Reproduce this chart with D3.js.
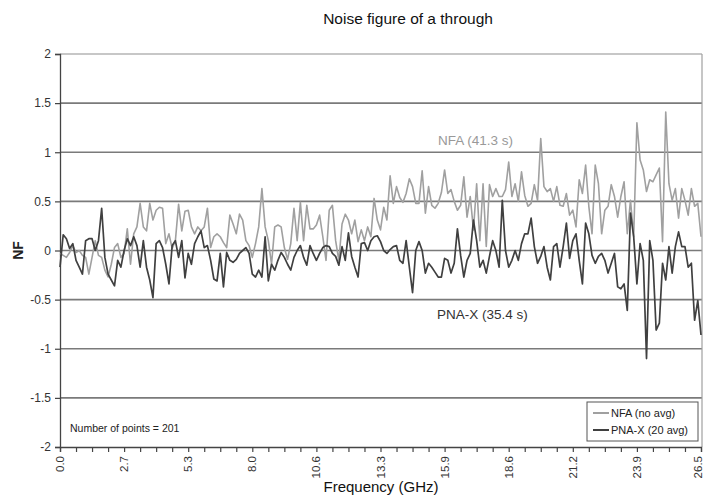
<!DOCTYPE html>
<html><head><meta charset="utf-8">
<script src="https://cdn.jsdelivr.net/npm/d3@7"></script>
<style>
html,body{margin:0;padding:0;background:#fff;}
svg{display:block;font-family:"Liberation Sans",Arial,sans-serif;}
</style></head>
<body><svg id="c" width="703" height="497"></svg>
<script>
const title = "Noise figure of a through";
const xTitle = "Frequency (GHz)";
const yTitle = "NF";
const startGHz = 0, stopGHz = 26.5, nPoints = 201;
const xTickLabels = ["0.0","2.7","5.3","8.0","10.6","13.3","15.9","18.6","21.2","23.9","26.5"];
const yTicks = [-2,-1.5,-1,-0.5,0,0.5,1,1.5,2];
const yTickLabels = ["-2","-1.5","-1","-0.5","0","0.5","1","1.5","2"];
const seriesNames = ["NFA (no avg)","PNA-X (20 avg)"];

const nfa = [
 -0.03,-0.05,-0.07,-0.02,0.05,-0.02,0.00,-0.05,-0.07,-0.24,
 -0.07,0.10,-0.05,-0.07,-0.20,-0.27,-0.14,0.03,0.07,-0.07,
 -0.03,0.22,-0.14,0.17,0.24,0.48,0.24,0.20,0.48,0.31,
 0.41,0.44,0.43,0.07,0.17,0.02,0.10,0.47,0.20,0.40,
 0.41,
 0.24,0.17,0.24,0.20,0.24,0.43,0.03,0.14,0.17,0.14,
 0.08,0.03,0.36,0.27,0.17,0.37,0.31,0.10,0.05,-0.07,
 0.07,0.24,0.63,0.24,0.10,-0.14,0.24,0.26,0.24,0.03,
 -0.09,0.07,0.43,0.10,0.49,0.10,0.46,0.22,0.22,
 0.26,0.36,0.14,-0.10,0.41,0.46,0.10,-0.10,0.27,0.37,
 0.31,0.17,0.31,0.09,0.21,0.10,0.24,0.14,0.53,0.31,
 0.21,0.44,0.31,0.76,0.48,0.65,0.54,0.49,0.58,0.73,
 0.65,0.48,0.48,0.81,0.38,0.65,0.46,0.43,0.48,0.59,
 0.82,0.58,0.62,0.50,0.41,0.46,0.75,0.34,0.55,0.21,
 0.68,0.10,0.68,0.04,0.67,0.55,0.63,0.55,0.55,0.62,
 0.90,0.55,0.68,0.50,0.80,0.56,0.45,0.48,0.67,0.51,
 1.14,0.65,0.60,0.63,0.50,0.65,0.46,0.45,0.58,0.36,
 0.41,0.24,0.72,0.58,0.87,0.45,0.17,0.87,0.68,0.17,
 0.41,0.45,0.67,0.55,0.34,0.55,0.70,0.17,0.51,0.14,
 1.30,0.92,0.82,0.60,0.72,0.70,0.77,0.84,0.09,1.41,
 0.68,0.51,0.63,0.33,0.63,0.51,0.36,0.63,0.45,0.48,
 0.14
];
const pnax = [
 -0.17,0.16,0.12,0.02,0.07,-0.10,-0.17,-0.24,0.10,0.12,
 0.12,0.00,0.10,0.43,-0.07,-0.24,-0.30,-0.36,-0.10,-0.17,
 0.00,0.12,0.05,0.14,0.05,-0.17,0.10,-0.17,-0.30,-0.48,
 0.07,0.10,0.03,-0.14,-0.34,0.05,0.10,-0.07,0.10,-0.28,
 -0.03,-0.14,0.07,0.14,0.20,0.03,0.05,-0.10,-0.29,-0.31,
 -0.03,-0.37,-0.02,-0.10,-0.12,-0.09,-0.03,0.00,0.03,-0.03,
 -0.24,-0.27,-0.20,-0.27,0.14,-0.31,-0.14,-0.20,-0.10,-0.02,
 -0.07,-0.14,-0.20,-0.07,0.00,0.05,-0.07,-0.15,0.05,
 -0.03,-0.10,-0.03,0.03,0.05,0.04,-0.03,-0.06,-0.15,0.04,
 -0.10,0.18,-0.06,-0.17,-0.27,0.07,0.08,0.00,0.10,0.14,
 0.15,0.09,0.00,-0.03,0.01,0.04,0.05,-0.10,-0.13,0.10,
 -0.17,-0.43,0.00,0.09,0.00,-0.23,-0.13,-0.17,-0.22,-0.27,
 -0.27,
 -0.08,-0.10,-0.23,-0.13,0.22,-0.05,-0.27,-0.10,-0.03,0.31,
 0.10,-0.17,-0.10,-0.23,-0.06,0.10,0.00,-0.17,0.51,0.00,
 -0.17,-0.10,0.00,-0.10,0.07,0.17,0.17,0.33,0.04,-0.13,
 -0.06,0.04,-0.17,-0.30,0.04,0.07,-0.17,0.04,0.28,
 -0.08,0.10,0.17,-0.10,-0.34,0.28,0.17,-0.05,-0.13,-0.06,
 -0.03,-0.10,-0.23,-0.13,-0.03,-0.37,-0.39,-0.34,-0.61,0.38,
 0.14,-0.34,0.07,-0.10,-1.10,0.10,-0.10,-0.81,-0.74,-0.13,
 -0.30,0.04,-0.23,0.04,0.19,0.04,0.04,-0.17,-0.13,-0.71,
 -0.51,-0.86
];
const nfaNote = "NFA (41.3 s)";
const pnaNote = "PNA-X (35.4 s)";
const pointsNote = "Number of points = 201";

const svg = d3.select("#c");
const L = 60, R = 701, T = 54, B = 447;
const freqs = d3.range(nPoints).map(i => startGHz + i*(stopGHz-startGHz)/(nPoints-1));
const x = d3.scaleLinear().domain([startGHz, stopGHz]).range([L, R]);
const y = d3.scaleLinear().domain([-2, 2]).range([B, T]);

// grid lines
svg.append("g").selectAll("line").data(yTicks.filter(v => v > -2)).join("line")
  .attr("x1", L).attr("x2", R+1).attr("y1", d => y(d)).attr("y2", d => y(d))
  .attr("stroke", d => d === 2 ? "#b4b4b4" : "#7a7a7a").attr("stroke-width", 1.7);
// right border
svg.append("line").attr("x1", R+1).attr("x2", R+1).attr("y1", T).attr("y2", B)
  .attr("stroke", "#a0a0a0").attr("stroke-width", 1.2);

// y axis
const yAxis = d3.axisLeft(y).tickValues(yTicks).tickSize(5).tickPadding(4)
  .tickFormat((d, i) => yTickLabels[i]);
const gy = svg.append("g").attr("transform", `translate(${L},0)`).call(yAxis);
gy.select(".domain").attr("stroke", "#444").attr("stroke-width", 1.3);
gy.selectAll(".tick line").attr("stroke", "#444").attr("stroke-width", 1.2);
gy.selectAll(".tick text").attr("fill", "#333").attr("font-size", 12)
  .attr("font-family", "Liberation Sans, Arial, sans-serif");

// x axis (ticks every 5 points)
const minorTicks = d3.range(0, nPoints, 5).map(i => freqs[i]);
const labelTicks = d3.range(0, nPoints, 20).map(i => freqs[i]);
const xAxis = d3.axisBottom(x).tickValues(minorTicks).tickSize(5).tickFormat("");
const gx = svg.append("g").attr("transform", `translate(0,${B})`).call(xAxis);
gx.select(".domain").attr("stroke", "#444").attr("stroke-width", 1.3);
gx.selectAll(".tick line").attr("stroke", "#444").attr("stroke-width", 1.2);
svg.append("g").selectAll("text").data(labelTicks).join("text")
  .attr("transform", (d) => `translate(${Math.min(x(d)+4, 702)},${B+9}) rotate(-90)`)
  .attr("text-anchor", "end").attr("fill", "#333").attr("font-size", 11.5)
  .text((d, i) => xTickLabels[i]);

// lines
const line = d3.line().x((d, i) => x(freqs[i])).y(d => y(d));
svg.append("path").datum(nfa).attr("d", line).attr("fill", "none")
  .attr("stroke", "#a0a0a0").attr("stroke-width", 1.6).attr("stroke-linejoin", "round");
svg.append("path").datum(pnax).attr("d", line).attr("fill", "none")
  .attr("stroke", "#404040").attr("stroke-width", 1.7).attr("stroke-linejoin", "round");

// titles
svg.append("text").attr("x", 408).attr("y", 24).attr("text-anchor", "middle")
  .attr("font-size", 15.5).attr("fill", "#111").text(title);
svg.append("text").attr("x", 381).attr("y", 492).attr("text-anchor", "middle")
  .attr("font-size", 15).attr("fill", "#111").text(xTitle);
svg.append("text").attr("transform", `translate(23,${y(0)}) rotate(-90)`)
  .attr("text-anchor", "middle").attr("font-size", 14).attr("font-weight", "bold")
  .attr("fill", "#222").text(yTitle);

// annotations
svg.append("text").attr("x", 438).attr("y", 145).attr("font-size", 13.5)
  .attr("fill", "#999").text(nfaNote);
svg.append("text").attr("x", 437).attr("y", 319).attr("font-size", 13.5)
  .attr("fill", "#333").text(pnaNote);
svg.append("text").attr("x", 70).attr("y", 432).attr("font-size", 10.5)
  .attr("fill", "#222").text(pointsNote);

// legend
const lg = svg.append("g").attr("transform", "translate(587,402)");
lg.append("rect").attr("x", 0).attr("y", 0).attr("width", 111).attr("height", 39)
  .attr("fill", "#fff").attr("stroke", "#555").attr("stroke-width", 1);
const lcol = ["#a0a0a0", "#404040"];
seriesNames.forEach((n, i) => {
  lg.append("line").attr("x1", 6).attr("x2", 22).attr("y1", 11 + i*17).attr("y2", 11 + i*17)
    .attr("stroke", lcol[i]).attr("stroke-width", 2);
  lg.append("text").attr("x", 24).attr("y", 15 + i*17).attr("font-size", 11)
    .attr("fill", "#222").text(n);
});
</script></body></html>
